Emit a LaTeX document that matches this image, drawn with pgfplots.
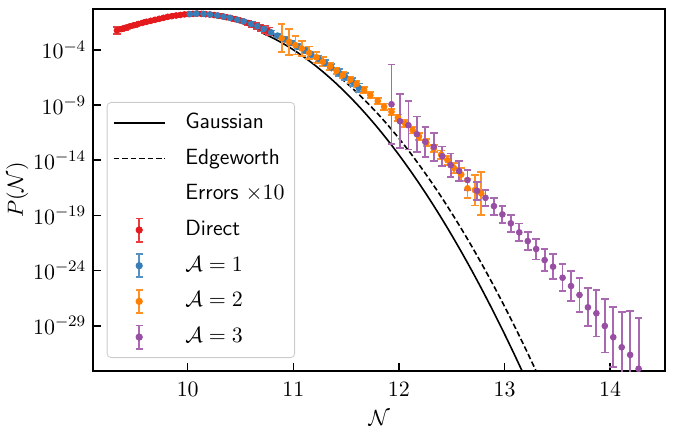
\documentclass[border=0pt]{standalone}
\usepackage{pgfplots}
\usepackage{pgfplotstable}
\pgfplotsset{compat=1.18}
\definecolor{cred}{HTML}{E41A1C}
\definecolor{cblue}{HTML}{377EB8}
\definecolor{corange}{HTML}{FF7F00}
\definecolor{cpurple}{HTML}{984EA3}
\pgfplotsset{
  errleg/.style={legend image code/.code={
    \draw[line width=0.9pt,#1!85!white] (12.65pt,-5.8pt) -- (12.65pt,5.8pt);
    \draw[line width=0.9pt,#1!85!white] (10.8pt,-5.8pt) -- (14.5pt,-5.8pt);
    \draw[line width=0.9pt,#1!85!white] (10.8pt,5.8pt) -- (14.5pt,5.8pt);
    \fill[#1] (12.65pt,0pt) circle (1.6pt);
    \path (0pt,0pt) (25.3pt,0pt);
  }},
  lineleg/.style={legend image code/.code={\draw[##1] (0pt,0pt) -- (25.3pt,0pt);}},
  errplot/.style={only marks, mark=*, mark size=1.45pt, color=#1, errleg=#1,
    error bars/.cd, y dir=both, y explicit,
    error bar style={line width=0.9pt, #1!85!white},
    error mark options={rotate=90, mark size=1.9pt, line width=0.9pt, #1!85!white}},
}
% log10 P values
\pgfplotstableread{
x y e
9.33 -2.24 0.30
9.37 -2.12 0.22
9.41 -2.00 0.18
9.45 -1.88 0.16
9.49 -1.77 0.15
9.53 -1.66 0.14
9.57 -1.56 0.13
9.61 -1.46 0.13
9.65 -1.37 0.12
9.69 -1.28 0.12
9.73 -1.19 0.12
9.77 -1.10 0.12
9.81 -1.01 0.12
9.85 -0.95 0.12
9.89 -0.89 0.12
9.93 -0.84 0.12
9.97 -0.79 0.12
10.01 -0.76 0.12
10.05 -0.74 0.12
10.09 -0.72 0.12
10.13 -0.74 0.12
10.17 -0.77 0.12
10.21 -0.80 0.12
10.25 -0.85 0.13
10.29 -0.91 0.13
10.33 -0.97 0.13
10.37 -1.05 0.14
10.41 -1.12 0.14
10.45 -1.22 0.15
10.49 -1.32 0.16
10.53 -1.44 0.17
10.57 -1.56 0.19
10.61 -1.69 0.21
10.65 -1.84 0.24
10.69 -1.99 0.27
10.73 -2.16 0.31
10.77 -2.33 0.36
}\reddata
\pgfplotstableread{
x y e
10.02 -0.76 0.12
10.08 -0.72 0.12
10.15 -0.74 0.12
10.21 -0.80 0.12
10.28 -0.89 0.12
10.34 -0.99 0.12
10.40 -1.10 0.12
10.47 -1.27 0.13
10.53 -1.42 0.13
10.60 -1.65 0.14
10.66 -1.87 0.15
10.72 -2.12 0.16
10.79 -2.42 0.17
10.85 -2.71 0.18
10.92 -3.06 0.19
10.98 -3.38 0.20
11.04 -3.69 0.21
11.11 -4.06 0.22
11.17 -4.41 0.23
11.24 -4.83 0.24
11.30 -5.20 0.26
11.36 -5.60 0.28
11.43 -6.04 0.30
11.49 -6.42 0.33
11.56 -6.90 0.36
11.62 -7.45 0.40
}\bluedata
\pgfplotstableread{
x y e
10.89 -2.95 1.27
10.96 -3.28 1.18
11.02 -3.58 0.85
11.08 -3.88 0.70
11.15 -4.27 0.58
11.22 -4.68 0.48
11.28 -5.08 0.40
11.35 -5.50 0.34
11.41 -5.90 0.30
11.47 -6.28 0.28
11.54 -6.70 0.27
11.60 -7.08 0.27
11.67 -7.64 0.27
11.73 -8.10 0.27
11.80 -8.63 0.27
11.86 -9.15 0.28
11.93 -9.62 0.28
11.99 -10.14 0.28
12.06 -10.69 0.30
12.13 -11.28 0.30
12.19 -11.85 0.32
12.26 -12.40 0.33
12.33 -12.94 0.35
12.40 -13.50 0.37
12.46 -14.00 0.40
12.52 -14.70 0.45
12.59 -15.30 0.60
12.65 -16.55 0.90
12.72 -16.71 1.40
12.78 -17.01 1.95
}\orangedata
\pgfplotstableread{
x y e
11.93 -8.93 3.60
12.01 -10.47 2.45
12.09 -10.83 2.20
12.17 -11.64 1.60
12.25 -12.34 1.35
12.33 -12.79 1.27
12.41 -13.63 0.88
12.49 -14.45 1.05
12.57 -14.99 0.90
12.65 -15.80 0.90
12.74 -16.77 0.83
12.82 -17.41 0.72
12.90 -18.16 0.77
12.98 -18.91 0.78
13.06 -19.72 0.78
13.14 -20.54 0.81
13.22 -21.33 0.83
13.30 -22.05 0.94
13.38 -23.05 0.97
13.46 -23.65 1.12
13.55 -24.65 1.21
13.63 -25.40 1.39
13.71 -26.21 1.57
13.79 -27.33 1.72
13.87 -27.87 2.11
13.95 -29.02 2.41
14.03 -30.04 2.71
14.11 -30.95 3.20
14.19 -31.64 4.00
14.27 -32.90 4.60
}\purpledata
\begin{document}
\begin{tikzpicture}
\begin{axis}[
  scale only axis, width=285.85pt, height=181pt,
  xmin=9.106, xmax=14.52, ymin=-33.1, ymax=-0.3,
  xtick={10,11,12,13,14},
  ytick={-29,-24,-19,-14,-9,-4},
  yticklabels={$10^{-29}$,$10^{-24}$,$10^{-19}$,$10^{-14}$,$10^{-9}$,$10^{-4}$},
  minor tick num=0,
  tick align=inside, xtick pos=bottom, ytick pos=left,
  major tick length=3.8pt,
  every tick/.style={black, line width=0.75pt},
  axis line style={line width=1pt},
  ticklabel style={font=\fontsize{11}{13}\selectfont},
  xticklabel style={yshift=-2pt},
  xlabel={$\mathcal{N}$}, ylabel={$P(\mathcal{N})$},
  label style={font=\fontsize{11}{13}\selectfont},
  xlabel style={at={(axis description cs:0.5,-0.1298)}, anchor=center},
  ylabel style={at={(axis description cs:-0.1329,0.5)}, anchor=center},
  legend style={at={(0,0)}, anchor=south west, xshift=6.7pt, yshift=6.5pt,
    draw=black!20, rounded corners=2pt, fill=white, inner sep=3pt, row sep=3.35pt,
    font=\sffamily\fontsize{11}{13}\selectfont,
    nodes={inner sep=2pt, text height=8pt, text depth=2.5pt},
    /tikz/every odd column/.append style={column sep=8pt}},
  legend cell align=left,
]
\addplot[black, line width=0.8pt, smooth, lineleg] coordinates {
(10.7,-2.444) (10.8,-2.893) (10.9,-3.410) (11.0,-3.993) (11.1,-4.643)
(11.2,-5.361) (11.3,-6.146) (11.4,-6.997) (11.5,-7.916) (11.6,-8.902)
(11.7,-9.955) (11.8,-11.075) (11.9,-12.261) (12.0,-13.516) (12.1,-14.837)
(12.2,-16.225) (12.3,-17.680) (12.4,-19.202) (12.5,-20.792) (12.6,-22.448)
(12.7,-24.171) (12.8,-25.962) (12.9,-27.819) (13.0,-29.744) (13.1,-31.736)
(13.2,-33.795) (13.3,-35.920)};
\addlegendentry{Gaussian}
\addplot[black, line width=0.8pt, dash pattern=on 2.8pt off 1.4pt, smooth, lineleg] coordinates {
(10.7,-2.294) (10.8,-2.663) (10.9,-3.090) (11.0,-3.593) (11.1,-4.133)
(11.2,-4.741) (11.3,-5.416) (11.4,-6.157) (11.5,-6.966) (11.6,-7.842)
(11.7,-8.785) (11.8,-9.795) (11.9,-10.871) (12.0,-12.016) (12.1,-13.237)
(12.2,-14.525) (12.3,-15.880) (12.4,-17.302) (12.5,-18.792) (12.6,-20.348)
(12.7,-21.971) (12.8,-23.662) (12.9,-25.419) (13.0,-27.244) (13.1,-29.136)
(13.2,-31.095) (13.3,-33.120) (13.4,-35.213)};
\addlegendentry{Edgeworth}
\addlegendimage{empty legend}
\addlegendentry{Errors $\times 10$}
\addplot[errplot=cred] table[x=x, y=y, y error=e] {\reddata};
\addlegendentry{Direct}
\addplot[errplot=cblue] table[x=x, y=y, y error=e] {\bluedata};
\addlegendentry{$\mathcal{A}=1$}
\addplot[errplot=corange] table[x=x, y=y, y error=e] {\orangedata};
\addlegendentry{$\mathcal{A}=2$}
\addplot[errplot=cpurple] table[x=x, y=y, y error=e] {\purpledata};
\addlegendentry{$\mathcal{A}=3$}
\end{axis}
\pgfresetboundingbox
\path ([shift={(-46.65pt,-31.5pt)}]current axis.south west) rectangle ([shift={(4.5pt,4.5pt)}]current axis.north east);
\end{tikzpicture}
\end{document}
